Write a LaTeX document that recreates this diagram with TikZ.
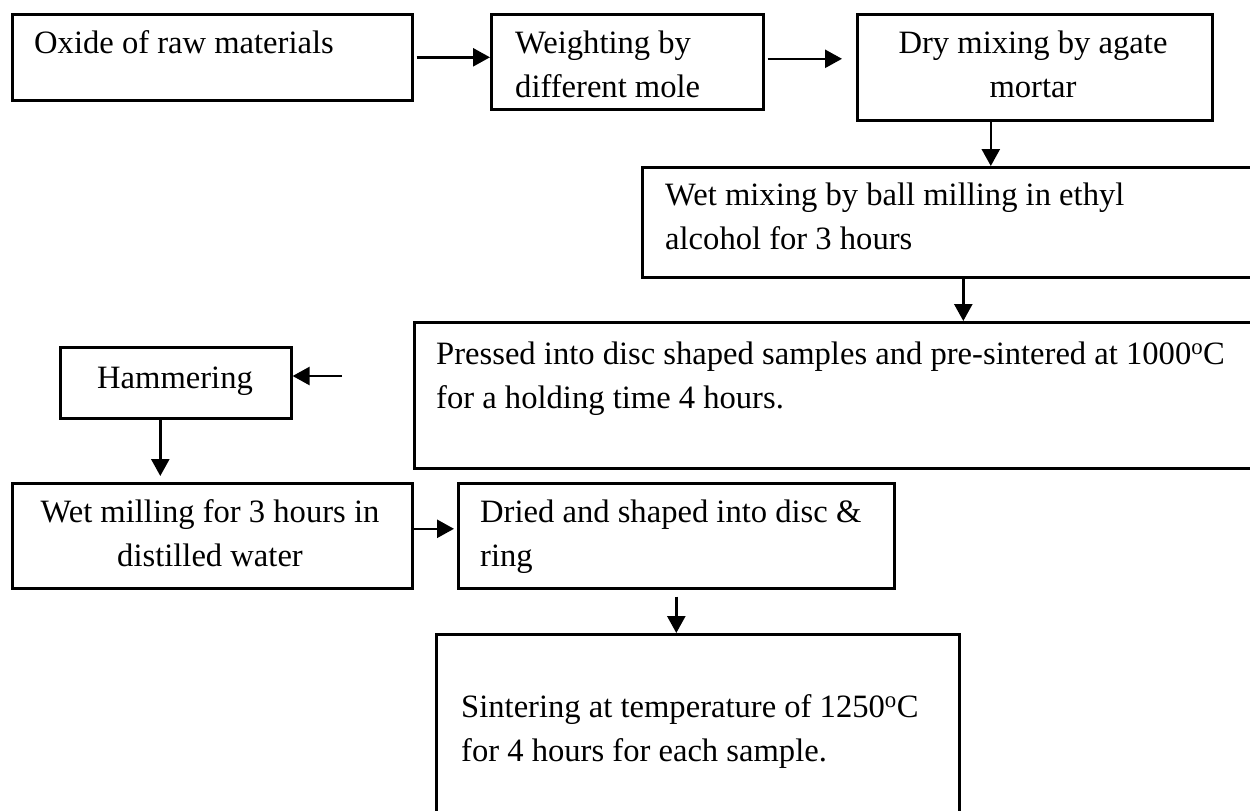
\documentclass[tikz,border=0pt]{standalone}
\usepackage{fontspec}
\setmainfont{Liberation Serif}
\usetikzlibrary{arrows.meta}

\begin{document}
\begin{tikzpicture}[x=1pt,y=-1pt,
    procbox/.style={draw,line width=2.6pt,rectangle,inner sep=0pt,anchor=north west},
    steptext/.style={inner sep=0pt,font=\fontsize{32.6}{44}\selectfont},
    flow/.style={line width=2.6pt,-{Triangle[length=17pt,width=18pt]}}]

      \clip (0,0) rectangle (1250,811);

      % draw the boxes
      \node[procbox,minimum width=400pt,minimum height=86pt]  (oxide)   at (11,13)  {};
      \node[procbox,minimum width=272pt,minimum height=95pt]  (weigh)   at (490,13) {};
      \node[procbox,minimum width=355pt,minimum height=106pt] (dry)     at (856,13) {};
      \node[procbox,minimum width=630pt,minimum height=110pt] (wetmix)  at (641,166) {};
      \node[procbox,minimum width=860pt,minimum height=146pt] (press)   at (413,321) {};
      \node[procbox,minimum width=231pt,minimum height=71pt]  (hammer)  at (59,346) {};
      \node[procbox,minimum width=400pt,minimum height=105pt] (wetmill) at (11,482) {};
      \node[procbox,minimum width=436pt,minimum height=105pt] (dried)   at (457,482) {};
      \node[procbox,minimum width=523pt,minimum height=200pt] (sinter)  at (435,633) {};

      % the texts (base = baseline of the last line)
      \node[steptext,anchor=base west] (oxideTxt) at (34,53) {Oxide of raw materials};
      \node[steptext,anchor=base west,align=left] (weighTxt) at (515,97) {Weighting by\\different mole};
      \node[steptext,anchor=base,align=center] (dryTxt) at (1033,97) {Dry mixing by agate\\mortar};
      \node[steptext,anchor=base west,align=left] (wetmixTxt) at (665,249) {Wet mixing by ball milling in ethyl\\alcohol for 3 hours};
      \node[steptext,anchor=base west,align=left] (pressTxt) at (436,408) {Pressed into disc shaped samples and pre-sintered at 1000\textsuperscript{o}C\\for a holding time 4 hours.};
      \node[steptext,anchor=base] (hammerTxt) at (175,388) {Hammering};
      \node[steptext,anchor=base,align=center] (wetmillTxt) at (210,566) {Wet milling for 3 hours in\\distilled water};
      \node[steptext,anchor=base west,align=left] (driedTxt) at (480,566) {Dried and shaped into disc \&\\ring};
      \node[steptext,anchor=base west,align=left] (sinterTxt) at (461,761) {Sintering at temperature of 1250\textsuperscript{o}C\\for 4 hours for each sample.};

      % draw the arrows
      \draw[flow,shorten <=3pt] (oxide.east) -- (oxide.east -| weigh.west);
      \coordinate (w2d) at ([xshift=3pt,yshift=3pt]weigh.east);
      \draw[flow,shorten >=14pt] (w2d) -- (w2d -| dry.west);
      \coordinate (d2w) at ([xshift=-44pt]dry.south);
      \draw[flow] (d2w) -- (d2w |- wetmix.north);
      \coordinate (m2p) at ([xshift=6pt]wetmix.south);
      \draw[flow] (m2p) -- (m2p |- press.north);
      \coordinate (hamIn) at (342,376);
      \draw[flow] (hamIn) -- (hamIn -| hammer.east);
      \coordinate (h2w) at ([xshift=-15.5pt]hammer.south);
      \draw[flow,shorten >=6pt] (h2w) -- (h2w |- wetmill.north);
      \coordinate (w2dr) at ([yshift=7pt]wetmill.east);
      \draw[flow,shorten >=3pt] (w2dr) -- (w2dr -| dried.west);
      \draw[flow,shorten <=7pt] (dried.south) -- (dried.south |- sinter.north);

\end{tikzpicture}
\end{document}
